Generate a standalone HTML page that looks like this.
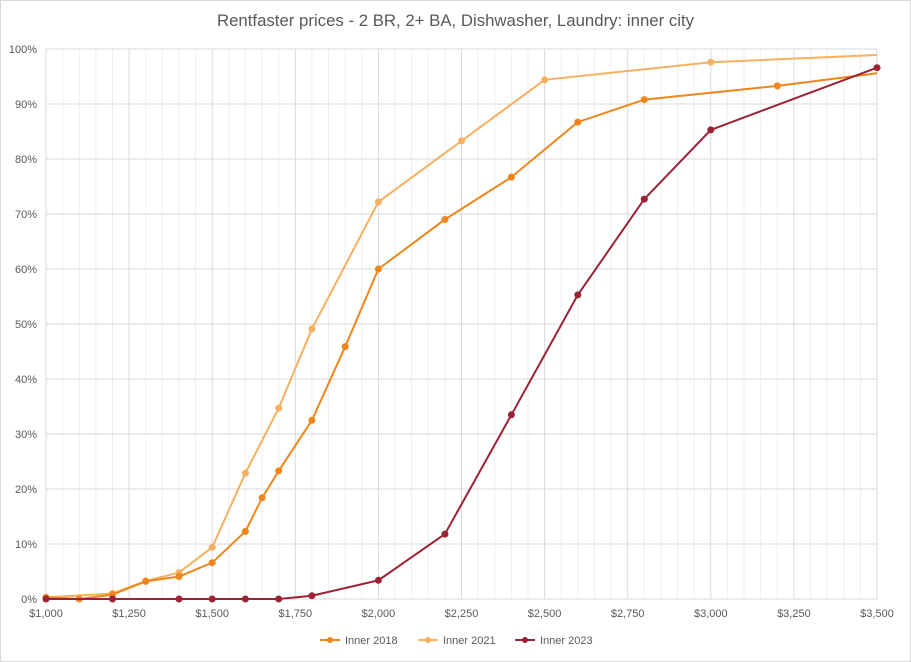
<!DOCTYPE html>
<html><head><meta charset="utf-8"><style>
html,body{margin:0;padding:0;background:#fff;}
svg{display:block;font-family:"Liberation Sans",sans-serif;}
</style></head><body>
<svg id="s" width="911" height="662" viewBox="0 0 911 662" xmlns="http://www.w3.org/2000/svg">
<rect x="0.5" y="0.5" width="910" height="661" fill="#fff" stroke="#d9d9d9"/>
<text x="455.5" y="26" text-anchor="middle" font-size="16.8" fill="#595959">Rentfaster prices - 2 BR, 2+ BA, Dishwasher, Laundry: inner city</text>
<g id="grid"></g>
<g id="series"></g>
<g font-size="11" fill="#595959">
<line x1="320" y1="640" x2="340" y2="640" stroke="#F0861A" stroke-width="2"/><circle cx="330" cy="640" r="3" fill="#F0861A"/>
<text x="345" y="644">Inner 2018</text>
<line x1="418" y1="640" x2="438" y2="640" stroke="#F7B061" stroke-width="2"/><circle cx="428" cy="640" r="3" fill="#F7B061"/>
<text x="443" y="644">Inner 2021</text>
<line x1="515" y1="640" x2="535" y2="640" stroke="#9B2335" stroke-width="2"/><circle cx="525" cy="640" r="3" fill="#9B2335"/>
<text x="540" y="644">Inner 2023</text>
</g>
</svg>
<script>
const X=v=>46+(v-1000)*831/2500, Y=p=>599-p*5.5;
let g='';
for(let v=1000;v<=3500;v+=50){const x=X(v).toFixed(1);const maj=(v-1000)%250==0;
 g+=`<line x1="${x}" y1="49" x2="${x}" y2="599" stroke="${maj?'#d9d9d9':'#eeeeee'}" stroke-width="1"/>`;
 if(maj) g+=`<text x="${x}" y="617" text-anchor="middle" font-size="11" fill="#595959">$${v.toLocaleString('en-US')}</text>`;}
for(let p=0;p<=100;p+=10){const y=Y(p);g+=`<line x1="46" y1="${y}" x2="877" y2="${y}" stroke="#d9d9d9"/>`;
 g+=`<text x="37" y="${y+4}" text-anchor="end" font-size="11" fill="#595959">${p}%</text>`;}
document.getElementById('grid').innerHTML=g;
const S=[
['#F7B061',[[1000,0.3],[1200,1],[1300,3.3],[1400,4.8],[1500,9.4],[1600,22.9],[1700,34.7],[1800,49.1],[2000,72.2],[2250,83.3],[2500,94.4],[3000,97.6],[3500,98.9,0]]],
['#F0861A',[[1000,0.3],[1100,0],[1200,0.8],[1300,3.2],[1400,4.1],[1500,6.6],[1600,12.3],[1650,18.4],[1700,23.3],[1800,32.5],[1900,45.9],[2000,60],[2200,69],[2400,76.7],[2600,86.7],[2800,90.8],[3200,93.3],[3500,95.6,0]]],
['#9B2335',[[1000,0],[1200,0],[1400,0],[1500,0],[1600,0],[1700,0],[1800,0.6],[2000,3.4],[2200,11.8],[2400,33.5],[2600,55.3],[2800,72.7],[3000,85.3],[3500,96.6]]]];
let s='';
for(const [c,d] of S){s+=`<polyline fill="none" stroke="${c}" stroke-width="2" points="${d.map(p=>X(p[0]).toFixed(1)+','+Y(p[1]).toFixed(1)).join(' ')}"/>`;
 for(const p of d) if(p[2]!==0) s+=`<circle cx="${X(p[0]).toFixed(1)}" cy="${Y(p[1]).toFixed(1)}" r="3.5" fill="${c}"/>`;}
document.getElementById('series').innerHTML=s;
</script>
</body></html>
